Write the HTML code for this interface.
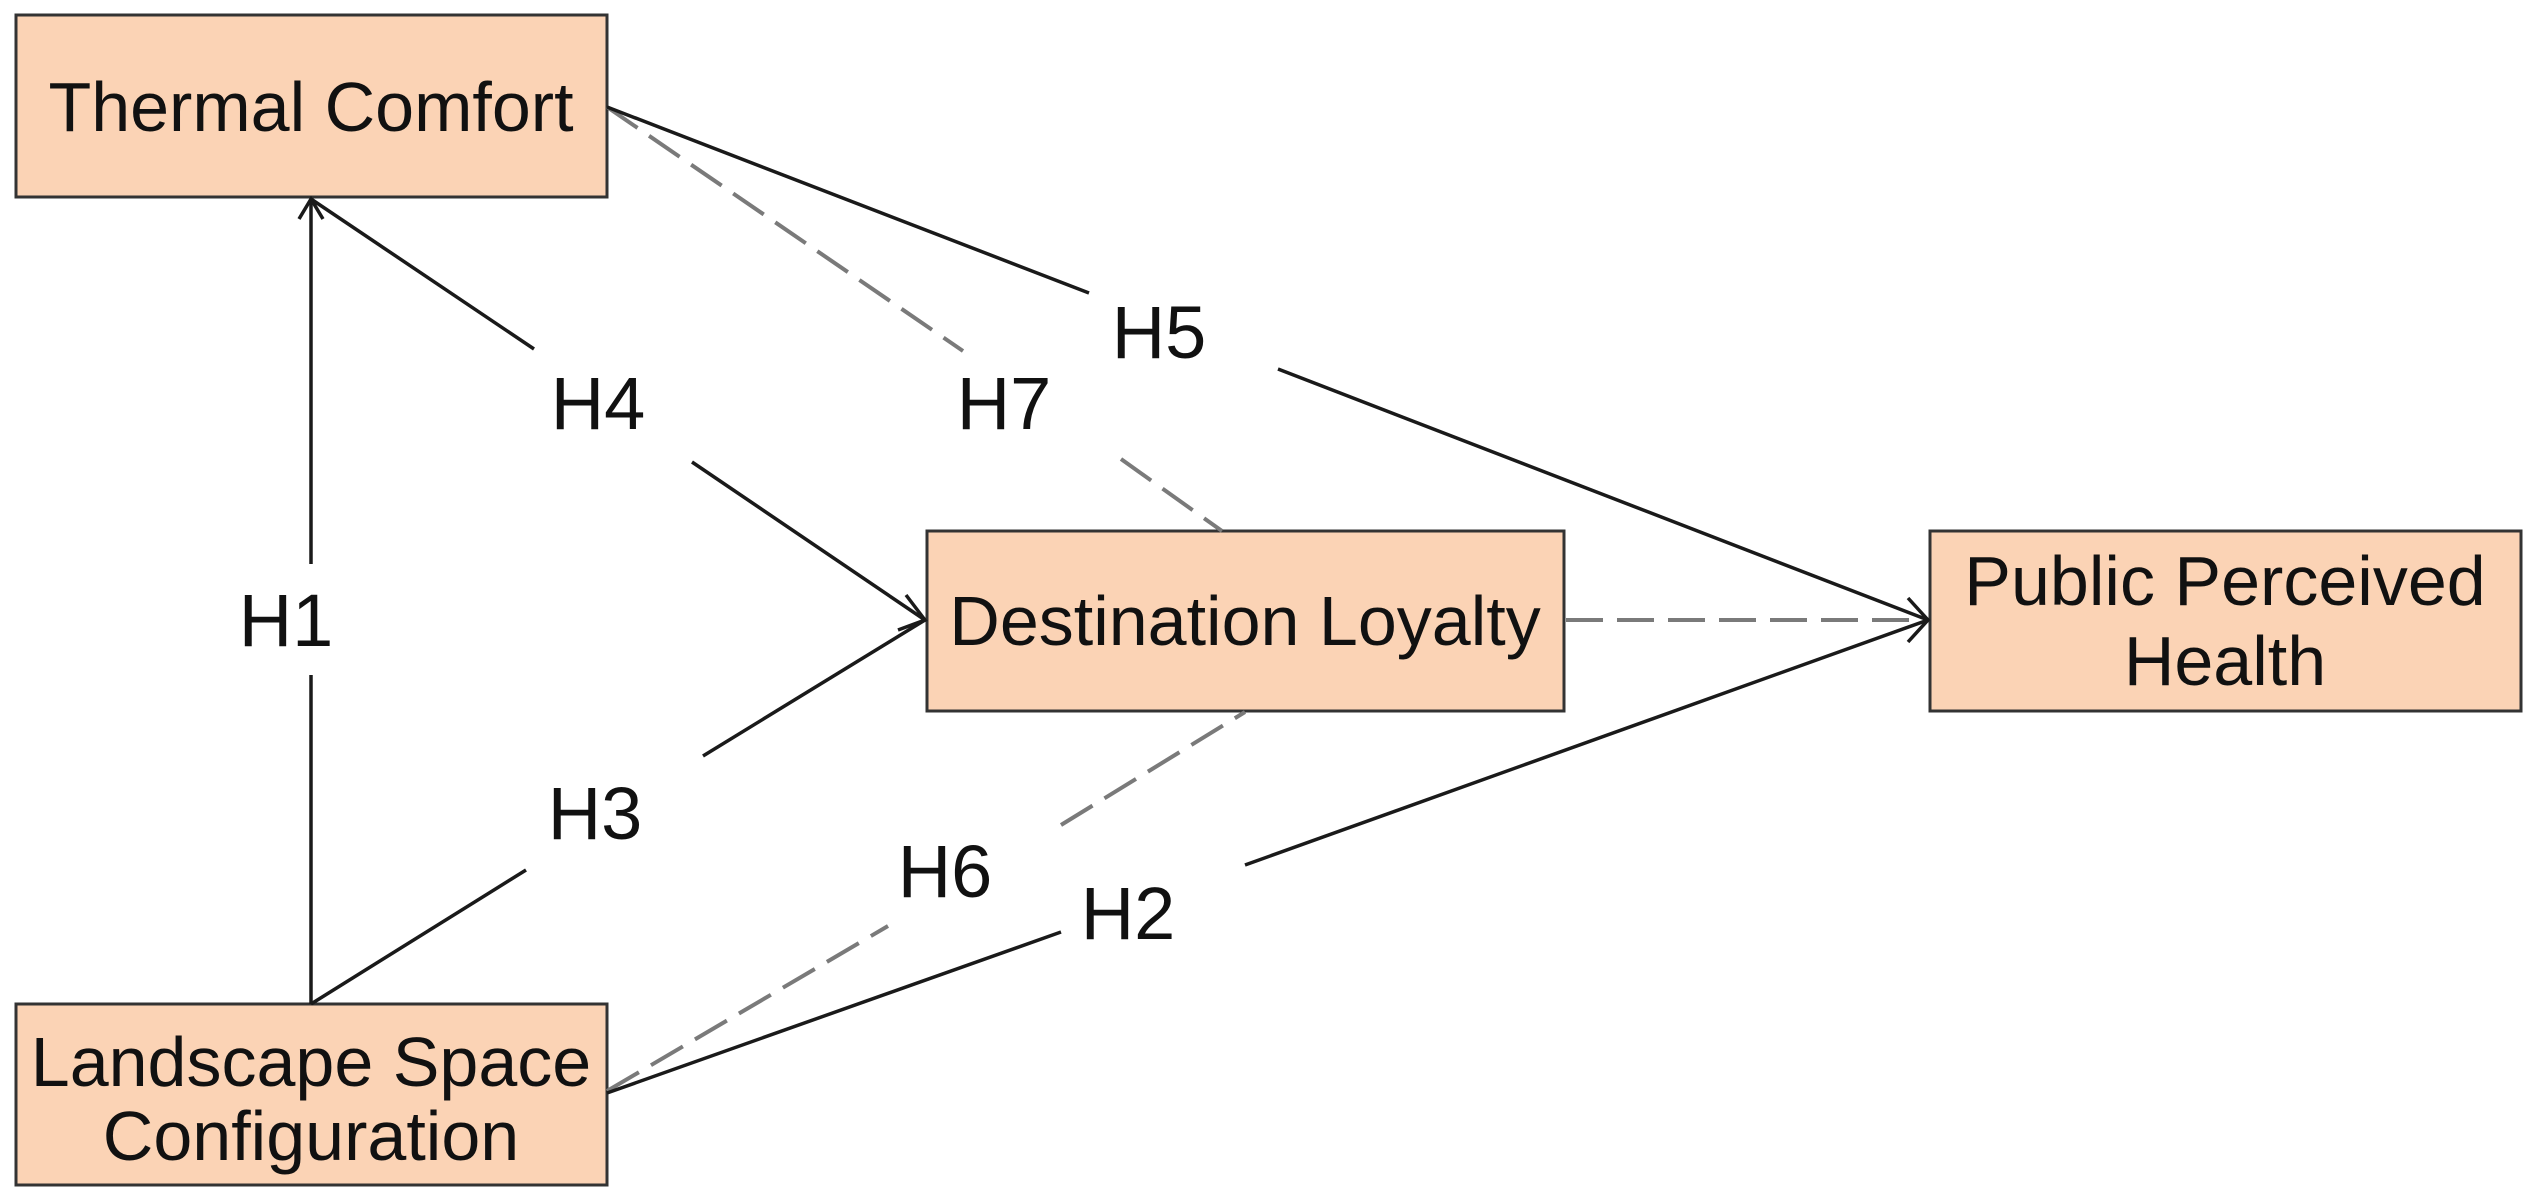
<!DOCTYPE html>
<html><head><meta charset="utf-8"><style>
html,body{margin:0;padding:0;background:#fff;}
svg{display:block;}
text{font-family:"Liberation Sans",Arial,sans-serif;fill:#111;}
</style></head><body>
<svg width="2538" height="1203" viewBox="0 0 2538 1203" xmlns="http://www.w3.org/2000/svg">
<rect width="2538" height="1203" fill="#fff"/>
<g fill="#fbd3b5" stroke="#333" stroke-width="3">
<rect x="16" y="15" width="591" height="182"/>
<rect x="16" y="1004" width="591" height="181"/>
<rect x="927" y="531" width="637" height="180"/>
<rect x="1930" y="531" width="591" height="180"/>
</g>
<g stroke="#7a7a7a" stroke-width="4" stroke-dasharray="37,14" fill="none">
<line x1="607" y1="107" x2="963" y2="351"/>
<line x1="1121" y1="459" x2="1222" y2="531"/>
<line x1="607" y1="1091" x2="888" y2="926"/>
<line x1="1061" y1="825" x2="1245" y2="712"/>
<line x1="1566" y1="620" x2="1926" y2="620"/>
</g>
<g stroke="#1a1a1a" stroke-width="3.5" fill="none">
<line x1="311" y1="1004" x2="311" y2="675"/>
<line x1="311" y1="564" x2="311" y2="199"/>
<line x1="311" y1="199" x2="534" y2="349"/>
<line x1="692" y1="462" x2="925" y2="620"/>
<line x1="311" y1="1004" x2="526" y2="870"/>
<line x1="703" y1="756" x2="925" y2="620"/>
<line x1="607" y1="107" x2="1089" y2="293"/>
<line x1="1278" y1="369" x2="1928" y2="620"/>
<line x1="607" y1="1093" x2="1061" y2="932"/>
<line x1="1245" y1="865" x2="1928" y2="620"/>
<polyline points="299,219 311,199 323,219"/>
<polyline points="906,595 925,620 898,630"/>
<polyline points="1908,598 1928,620 1908,642"/>
</g>
<g font-size="70" text-anchor="middle">
<text x="311" y="131">Thermal Comfort</text>
<text x="311" y="1086">Landscape Space</text>
<text x="311" y="1160">Configuration</text>
<text x="1245" y="645">Destination Loyalty</text>
<text x="2225" y="605">Public Perceived</text>
<text x="2225" y="685">Health</text>
</g>
<g font-size="74" text-anchor="middle">
<text x="286" y="646">H1</text>
<text x="598" y="429">H4</text>
<text x="595" y="839">H3</text>
<text x="1159" y="358">H5</text>
<text x="1004" y="429">H7</text>
<text x="945" y="897">H6</text>
<text x="1128" y="939">H2</text>
</g>
</svg>
</body></html>
